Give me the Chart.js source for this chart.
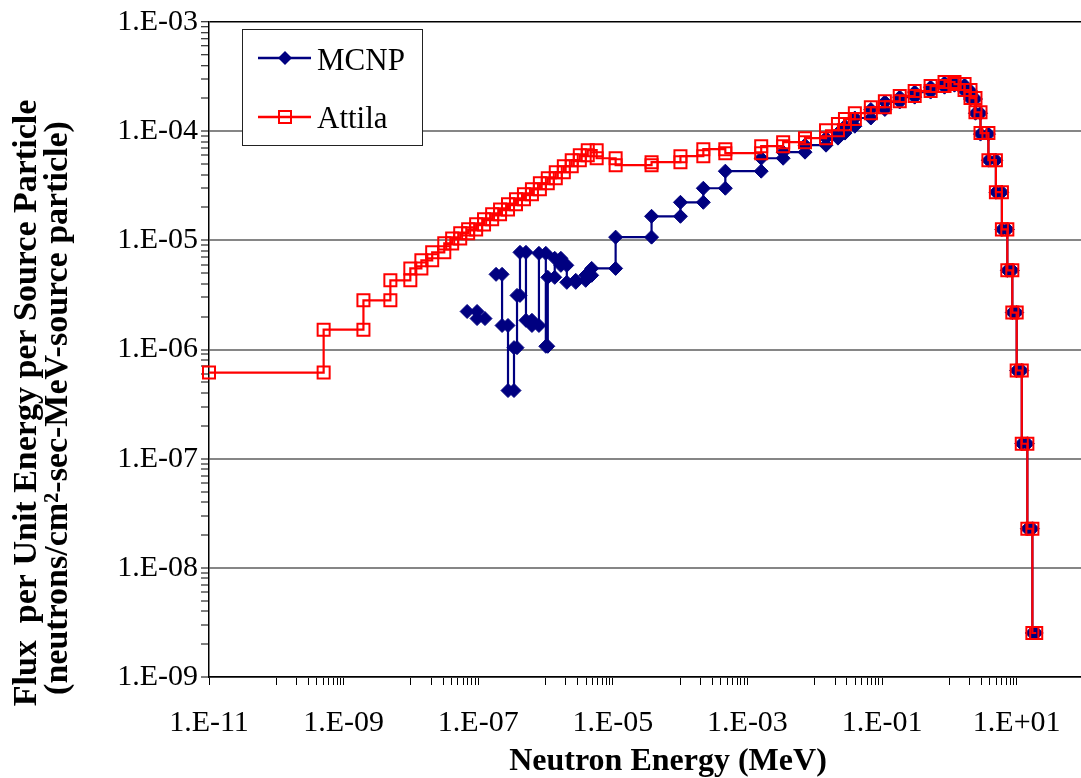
<!DOCTYPE html>
<html><head><meta charset="utf-8">
<script src="https://cdn.jsdelivr.net/npm/chart.js@4.4.1/dist/chart.umd.min.js"></script>
<style>
html,body{margin:0;padding:0;overflow:hidden;background:#fff;width:1081px;height:778px}
#wrap{position:relative;width:1081px;height:778px;overflow:hidden;background:#fff}
canvas{display:block}
</style></head>
<body><div id="wrap"><canvas id="c" width="1104" height="778"></canvas></div>
<script>
const X_TITLE = 'Neutron Energy (MeV)';
const Y_TITLE_1 = 'Flux  per Unit Energy per Source Particle';
const Y_TITLE_2 = '(neutrons/cm\u00B2-sec-MeV-source particle)';
const SERIES_NAMES = ['MCNP', 'Attila'];
const xLabelExponents = [-11, -9, -7, -5, -3, -1, 1];
const yLabelExponents = [-9, -8, -7, -6, -5, -4, -3];

// Attila: group (bin) edges in MeV and flux per bin
const attilaEdges = [1e-11, 5.05e-10, 1.97e-9, 4.95e-9, 9.8e-9, 1.43e-8, 2.07e-8, 3.13e-8, 4.10e-8, 5.40e-8,
  7.08e-8, 9.31e-8, 1.22e-7, 1.61e-7, 2.11e-7, 2.77e-7, 3.64e-7, 4.78e-7, 6.28e-7, 8.24e-7,
  1.08e-6, 1.42e-6, 1.87e-6, 2.45e-6, 3.23e-6, 4.24e-6, 5.75e-6, 1.10e-5, 3.76e-5, 1.01e-4,
  2.21e-4, 4.69e-4, 1.60e-3, 3.39e-3, 7.16e-3, 1.47e-2, 2.21e-2, 2.81e-2, 3.94e-2, 6.81e-2,
  0.110, 0.183, 0.305, 0.526, 0.847, 1.19, 1.68, 2.06, 2.44, 2.90,
  3.80, 4.91, 6.03, 7.26, 8.61, 10.0, 11.9, 14.4, 17.1, 19.5];
const attilaFlux = [6.15e-7, 1.52e-6, 2.82e-6, 4.30e-6, 5.53e-6, 6.56e-6, 7.76e-6, 9.38e-6, 1.04e-5,
  1.16e-5, 1.26e-5, 1.40e-5, 1.56e-5, 1.73e-5, 1.92e-5, 2.14e-5, 2.38e-5, 2.64e-5, 2.94e-5,
  3.33e-5, 3.70e-5, 4.21e-5, 4.77e-5, 5.42e-5, 6.02e-5, 6.70e-5, 5.65e-5, 4.88e-5, 5.20e-5,
  5.90e-5, 6.84e-5, 6.28e-5, 7.28e-5, 7.93e-5, 8.63e-5, 1.02e-4, 1.16e-4, 1.29e-4, 1.46e-4,
  1.66e-4, 1.88e-4, 2.10e-4, 2.33e-4, 2.59e-4, 2.82e-4, 2.70e-4, 2.38e-4, 2.01e-4, 1.49e-4,
  9.6e-5, 5.42e-5, 2.76e-5, 1.26e-5, 5.31e-6, 2.18e-6, 6.42e-7, 1.37e-7, 2.28e-8, 2.53e-9];

// MCNP: group (bin) edges in MeV and flux per bin (null = no score)
const mcnpEdges = [6.84e-8, 9.61e-8, 1.26e-7, 1.84e-7, 2.26e-7, 2.77e-7, 3.40e-7, 3.77e-7, 4.17e-7, 5.12e-7,
  6.28e-7, 7.98e-7, 1.01e-6, 1.08e-6, 1.37e-6, 1.69e-6, 2.07e-6, 2.81e-6, 3.95e-6, 4.85e-6,
  1.10e-5, 3.76e-5, 1.01e-4, 2.21e-4, 4.69e-4, 1.60e-3, 3.39e-3, 7.16e-3, 1.47e-2, 2.21e-2,
  2.81e-2, 3.94e-2, 6.81e-2, 0.110, 0.183, 0.305, 0.526, 0.847, 1.19, 1.68,
  2.06, 2.44, 2.90, 3.80, 4.91, 6.03, 7.26, 8.61, 10.0, 11.9, 14.4, 17.1, 19.5];
const mcnpFlux = [2.23e-6, 1.92e-6, null, 4.88e-6, 1.66e-6, 4.21e-7, 1.04e-6, 3.13e-6, 7.76e-6, 1.85e-6,
  1.66e-6, 7.60e-6, 1.07e-6, 4.58e-6, 6.84e-6, 5.90e-6, 4.12e-6, 4.30e-6, 4.78e-6, 5.53e-6,
  1.07e-5, 1.66e-5, 2.23e-5, 3.00e-5, 4.30e-5, 5.65e-5, 6.42e-5, 7.44e-5, 8.63e-5, 9.6e-5,
  1.11e-4, 1.32e-4, 1.58e-4, 1.85e-4, 2.05e-4, 2.28e-4, 2.53e-4, 2.76e-4, 2.64e-4, 2.33e-4,
  1.97e-4, 1.46e-4, 9.4e-5, 5.42e-5, 2.76e-5, 1.26e-5, 5.31e-6, 2.18e-6, 6.42e-7, 1.37e-7, 2.28e-8, 2.53e-9];

// histogram representation: each bin plotted at its lower and upper edge
function binPoints(edges, vals) {
  const pts = [];
  for (let i = 0; i < vals.length; i++) {
    pts.push({x: edges[i], y: vals[i]}, {x: edges[i + 1], y: vals[i]});
  }
  return pts;
}
function expLabel(e) {
  return '1.E' + (e < 0 ? '-' : '+') + String(Math.abs(e)).padStart(2, '0');
}
function isDecade(v) { const l = Math.log10(v); return Math.abs(l - Math.round(l)) < 1e-9; }

const SERIF = '"Liberation Serif", "Times New Roman", serif';
const NAVY = '#000080', RED = '#FF0000';

const overlay = {
  id: 'overlay',
  afterDraw(chart) {
    const ctx = chart.ctx;
    ctx.save();
    ctx.fillStyle = '#000';
    ctx.font = 'bold 32px ' + SERIF;
    ctx.textAlign = 'center';
    ctx.textBaseline = 'alphabetic';
    ctx.fillText(X_TITLE, 668, 770);
    ctx.save();
    ctx.font = 'bold 34px ' + SERIF;
    ctx.translate(0, 403);
    ctx.rotate(-Math.PI / 2);
    ctx.fillText(Y_TITLE_1, 0, 36);
    ctx.fillText(Y_TITLE_2, -5, 67);
    ctx.restore();
    // legend
    ctx.fillStyle = '#fff';
    ctx.fillRect(242, 29, 180, 116);
    ctx.strokeStyle = '#222';
    ctx.lineWidth = 1;
    ctx.strokeRect(242.5, 29.5, 180, 116);
    // MCNP entry
    ctx.strokeStyle = NAVY; ctx.lineWidth = 2.5;
    ctx.beginPath(); ctx.moveTo(258, 58); ctx.lineTo(311, 58); ctx.stroke();
    ctx.fillStyle = NAVY;
    ctx.beginPath(); ctx.moveTo(285, 51); ctx.lineTo(292, 58); ctx.lineTo(285, 65); ctx.lineTo(278, 58); ctx.closePath(); ctx.fill();
    // Attila entry
    ctx.strokeStyle = RED; ctx.lineWidth = 2.5;
    ctx.beginPath(); ctx.moveTo(258, 117); ctx.lineTo(311, 117); ctx.stroke();
    ctx.lineWidth = 2;
    ctx.strokeRect(279, 111, 12, 12);
    ctx.fillStyle = '#000';
    ctx.font = '31px ' + SERIF;
    ctx.textAlign = 'left';
    ctx.fillText(SERIES_NAMES[0], 317, 70);
    ctx.fillText(SERIES_NAMES[1], 317, 128);
    ctx.restore();
  }
};

new Chart(document.getElementById('c'), {
  type: 'line',
  data: {
    datasets: [
      {
        label: SERIES_NAMES[0], data: binPoints(mcnpEdges, mcnpFlux), order: 1,
        borderColor: NAVY, borderWidth: 2.2, backgroundColor: NAVY,
        pointStyle: 'rectRot', pointRadius: 7, pointBackgroundColor: NAVY, pointBorderColor: NAVY, pointBorderWidth: 1,
        tension: 0, spanGaps: false, clip: false
      },
      {
        label: SERIES_NAMES[1], data: binPoints(attilaEdges, attilaFlux), order: 0,
        borderColor: RED, borderWidth: 2.2, backgroundColor: 'rgba(0,0,0,0)',
        pointStyle: 'rect', pointRadius: 8.5, pointBackgroundColor: 'rgba(0,0,0,0)', pointBorderColor: RED, pointBorderWidth: 2,
        tension: 0, spanGaps: false, clip: false
      }
    ]
  },
  options: {
    responsive: false, animation: false, devicePixelRatio: 1, events: [],
    layout: {padding: {top: 22, right: 13, bottom: 0, left: 0}},
    plugins: {legend: {display: false}, tooltip: {enabled: false}, title: {display: false}},
    scales: {
      x: {
        type: 'logarithmic', min: 1e-11, max: 1e2,
        afterFit(s) { s.height = 101; },
        afterBuildTicks(s) {
          const t = [];
          xLabelExponents.forEach(e => {
            t.push({value: Math.pow(10, e)});
            for (let k = 1; k <= 9; k++) t.push({value: k * Math.pow(10, e + 1)});
          });
          t.push({value: 1e2});
          s.ticks = t.filter(o => o.value <= 1e2 * 1.0001);
        },
        ticks: {
          autoSkip: false, maxRotation: 0, minRotation: 0, padding: 20, color: '#000',
          font: {family: SERIF, size: 30},
          callback(v) {
            if (!isDecade(v)) return '';
            const e = Math.round(Math.log10(v));
            return xLabelExponents.includes(e) ? expLabel(e) : '';
          }
        },
        grid: {drawOnChartArea: false, drawTicks: true, tickLength: 8, tickColor: '#000', tickWidth: 1},
        border: {display: true, color: '#000', width: 1.5}
      },
      y: {
        type: 'logarithmic', min: 1e-9, max: 1e-3,
        afterFit(s) { s.width = 209; },
        afterBuildTicks(s) {
          const t = [];
          yLabelExponents.forEach(e => {
            t.push({value: Math.pow(10, e)});
            if (e < -3) for (let k = 2; k <= 9; k++) t.push({value: k * Math.pow(10, e)});
          });
          s.ticks = t;
        },
        ticks: {
          autoSkip: false, padding: 3, color: '#000',
          font: {family: SERIF, size: 30},
          callback(v) {
            if (!isDecade(v)) return '';
            return expLabel(Math.round(Math.log10(v)));
          }
        },
        grid: {
          drawTicks: true, tickLength: 8, tickColor: '#000', tickWidth: 1,
          color(c) {
            const v = c.tick && c.tick.value;
            if (!v || !isDecade(v)) return 'rgba(0,0,0,0)';
            return Math.round(Math.log10(v)) === -3 ? '#000' : '#868686';
          },
          lineWidth(c) { const v = c.tick && c.tick.value; return (v && Math.round(Math.log10(v)) === -3) ? 1.5 : 2; }
        },
        border: {display: true, color: '#000', width: 1.5}
      }
    }
  },
  plugins: [overlay]
});
</script>
</body></html>
